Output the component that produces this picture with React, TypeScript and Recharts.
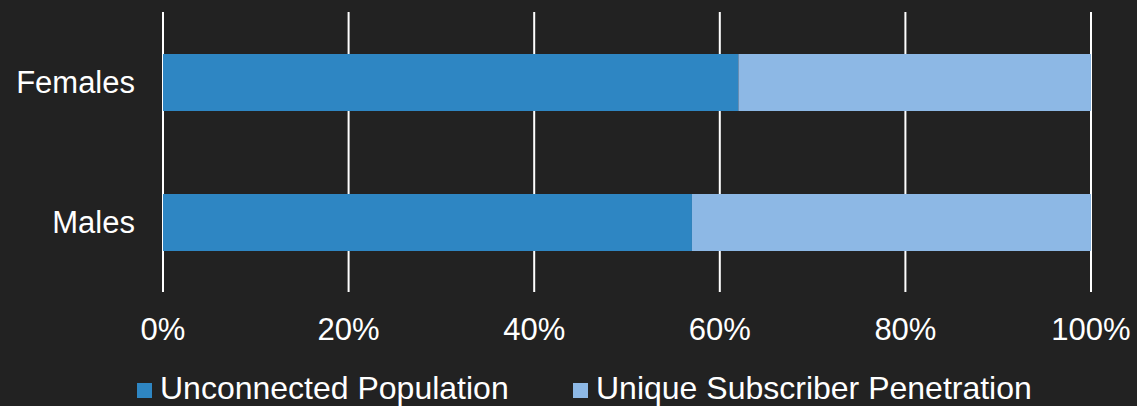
import React from 'react';
import { BarChart, Bar, XAxis, YAxis, CartesianGrid, Legend } from 'recharts';

const categories = ['Females', 'Males'];
const unconnected = [0.62, 0.57];
const penetration = [0.38, 0.43];
const xTicks = [0, 0.2, 0.4, 0.6, 0.8, 1];

const DARK = '#2E86C3';
const LIGHT = '#8DB8E5';
const FONT = '"Liberation Sans", Arial, sans-serif';

const chartData = categories.map((name, i) => ({
    name,
    unconnected: unconnected[i],
    penetration: penetration[i],
}));

const LegendContent = () => (
    <div style={{ position: 'relative', width: 1137, height: 38, fontFamily: FONT, fontSize: 32, lineHeight: '40px', color: '#fff' }}>
        <div style={{ position: 'absolute', left: 137, top: 15, width: 15, height: 15, background: DARK }} />
        <div style={{ position: 'absolute', left: 160, top: 0, whiteSpace: 'nowrap' }}>Unconnected Population</div>
        <div style={{ position: 'absolute', left: 573, top: 15, width: 15, height: 15, background: LIGHT }} />
        <div style={{ position: 'absolute', left: 596, top: 0, whiteSpace: 'nowrap' }}>Unique Subscriber Penetration</div>
    </div>
);

export default function App() {
    return (
        <div style={{ position: 'absolute', top: 0, left: 0, width: 1137, height: 406, background: '#222222' }}>
            <BarChart
                width={1137}
                height={406}
                layout="vertical"
                data={chartData}
                margin={{ top: 12, right: 46, left: 0, bottom: 26 }}
            >
                <CartesianGrid horizontal={false} vertical stroke="#ffffff" strokeWidth={2} />
                <XAxis
                    type="number"
                    domain={[0, 1]}
                    ticks={xTicks}
                    tickFormatter={(v: number) => `${Math.round(v * 100)}%`}
                    axisLine={false}
                    tickLine={false}
                    tickSize={0}
                    tickMargin={26}
                    height={50}
                    interval={0}
                    tick={{ fill: '#ffffff', fontSize: 31, fontFamily: FONT }}
                />
                <YAxis
                    type="category"
                    dataKey="name"
                    width={163}
                    axisLine={false}
                    tickLine={false}
                    tickSize={0}
                    tickMargin={28}
                    tick={{ fill: '#ffffff', fontSize: 31, fontFamily: FONT }}
                />
                <Legend content={<LegendContent />} wrapperStyle={{ position: 'absolute', top: 368, left: 0, bottom: 'auto' }} />
                <Bar dataKey="unconnected" stackId="a" fill={DARK} barSize={57} isAnimationActive={false} />
                <Bar dataKey="penetration" stackId="a" fill={LIGHT} barSize={57} isAnimationActive={false} />
            </BarChart>
        </div>
    );
}
